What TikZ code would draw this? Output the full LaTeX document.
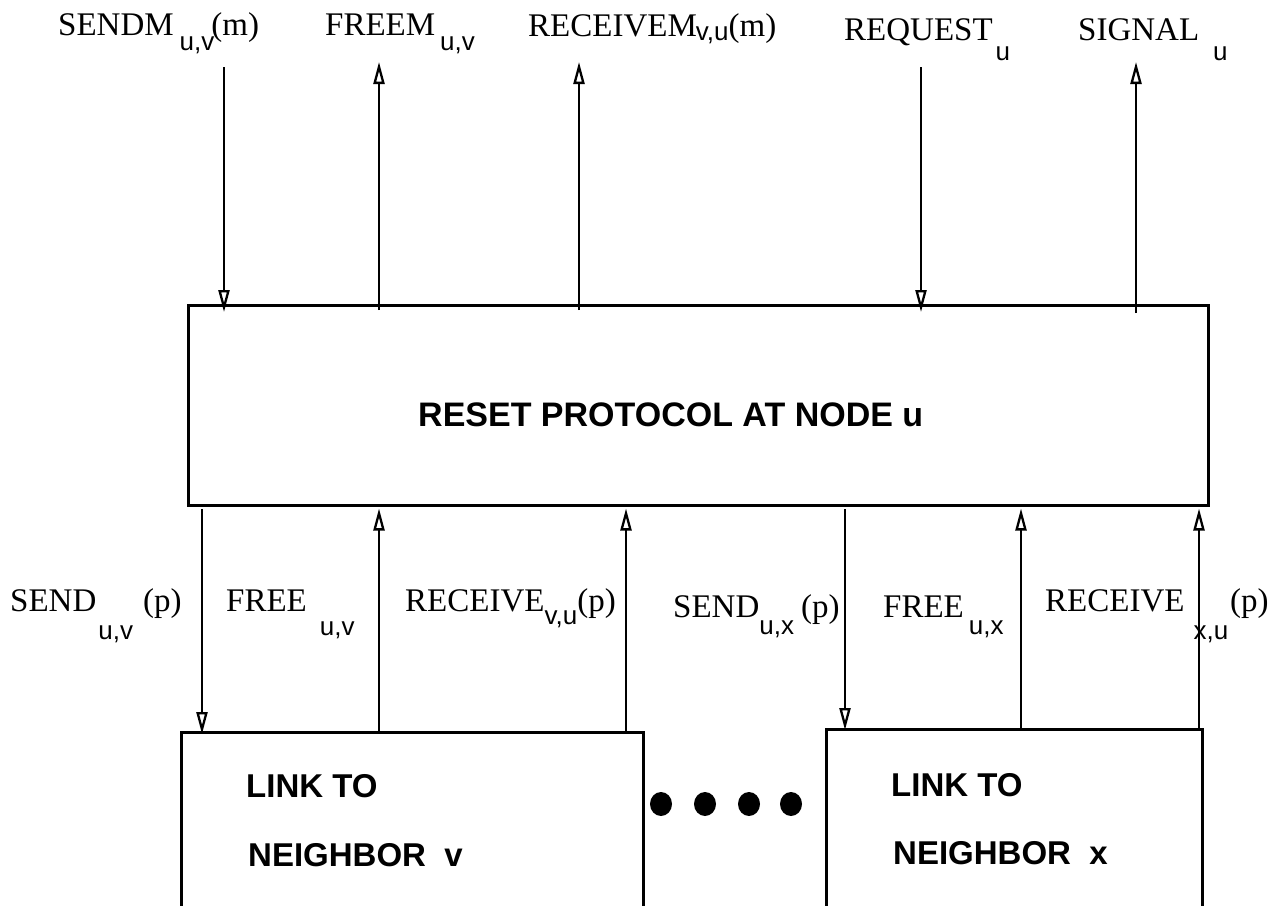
\documentclass[tikz,border=0pt]{standalone}
\usepackage{fontspec}
\setmainfont{Liberation Serif}
\newfontfamily\sansf{Liberation Sans}
\usetikzlibrary{arrows.meta,shapes.geometric}
\newcommand\sbx[2]{\raisebox{-#1pt}{\sansf\fontsize{26}{26}\selectfont #2}}
\begin{document}
\begin{tikzpicture}[x=1pt,y=-1pt,
  lbl/.style={anchor=base west, inner sep=0pt, font=\fontsize{33}{33}\selectfont},
  conn/.style={line width=2.3pt},
  tipa/.style={-{Triangle[open,length=22pt,width=11pt]}},
  box/.style={draw, line width=2.5pt, inner sep=0pt, anchor=north west},
  bt/.style={anchor=base west, inner sep=0pt, font=\sansf\bfseries\fontsize{33}{33}\selectfont},
  dot/.style={ellipse, fill, minimum width=22pt, minimum height=24pt, inner sep=0pt}
]
\useasboundingbox (0,0) rectangle (1284,905);
\clip (0,0) rectangle (1284,905);

% boxes
\node[box, minimum width=1020pt, minimum height=200pt] (main) at (187,304) {};
\node[box, minimum width=462pt, minimum height=240pt] (lv) at (180,731) {};
\node[box, minimum width=376pt, minimum height=240pt] (lx) at (825,728) {};

% box texts
\node[bt, font=\sansf\bfseries\fontsize{34}{34}\selectfont] (mt) at (418,426) {RESET PROTOCOL AT NODE u};
\node[bt] (lv1) at (246,797) {LINK TO};
\node[bt] (lv2) at (248,866) {NEIGHBOR\ \ v};
\node[bt] (lx1) at (891,796) {LINK TO};
\node[bt] (lx2) at (893,864) {NEIGHBOR\ \ x};

% dots
\node[dot] (d1) at (661,804) {};
\node[dot] (d2) at (705,804) {};
\node[dot] (d3) at (749,804) {};
\node[dot] (d4) at (791,804) {};

% top labels
\node[lbl] (l1) at (58,35) {SENDM\kern6pt\sbx{15}{u,v}\kern-3pt(m)};
\node[lbl] (l2) at (325,35) {FREEM\kern5pt\sbx{15}{u,v}};
\node[lbl] (l3) at (528,36) {RECEIVEM\kern-1pt\sbx{4}{v,u}(m)};
\node[lbl] (l4) at (844,40) {REQUEST\kern3pt\sbx{20}{u}};
\node[lbl] (l5) at (1078,40) {SIGNAL\kern14pt\sbx{20}{u}};

% bottom labels
\node[lbl] (b1) at (10,611) {SEND\kern2pt\sbx{28}{u,v}\kern10pt(p)};
\node[lbl] (b2) at (226,611) {FREE\kern13pt\sbx{24}{u,v}};
\node[lbl] (b3) at (405,611) {RECEIVE\sbx{13}{v,u}(p)};
\node[lbl] (b4) at (673,617) {SEND\sbx{17}{u,x}\kern7pt(p)};
\node[lbl] (b5) at (883,617) {FREE\kern5pt\sbx{17}{u,x}};
\node[lbl] (b6) at (1045,611) {RECEIVE\kern9pt\sbx{28}{x,u}\kern2pt(p)};

% top connector ends
\coordinate (t1) at (224,67);
\coordinate (t2) at (379,62);
\coordinate (t3) at (579,62);
\coordinate (t4) at (921,67);
\coordinate (t5) at (1136,62);

\draw[conn,tipa] (t1) -- ([yshift=-8pt]t1 |- main.north);
\draw[conn,tipa] ([yshift=-6pt]t2 |- main.north) -- (t2);
\draw[conn,tipa] ([yshift=-6pt]t3 |- main.north) -- (t3);
\draw[conn,tipa] (t4) -- ([yshift=-8pt]t4 |- main.north);
\draw[conn,tipa] ([yshift=-9pt]t5 |- main.north) -- (t5);

% bottom connectors
\coordinate (u1) at (202,509);
\coordinate (u4) at (845,509);
\draw[conn,tipa] (u1) -- ([yshift=-3pt]u1 |- lv.north);
\draw[conn,tipa] (379,0 |- lv.north) -- ([yshift=-2pt]379,0 |- main.south);
\draw[conn,tipa] (626,0 |- lv.north) -- ([yshift=-2pt]626,0 |- main.south);
\draw[conn,tipa] (u4) -- ([yshift=-2pt]u4 |- lx.north);
\draw[conn,tipa] (1021,0 |- lx.north) -- ([yshift=-2pt]1021,0 |- main.south);
\draw[conn,tipa] (1199,0 |- lx.north) -- ([yshift=-2pt]1199,0 |- main.south);
\end{tikzpicture}
\end{document}
